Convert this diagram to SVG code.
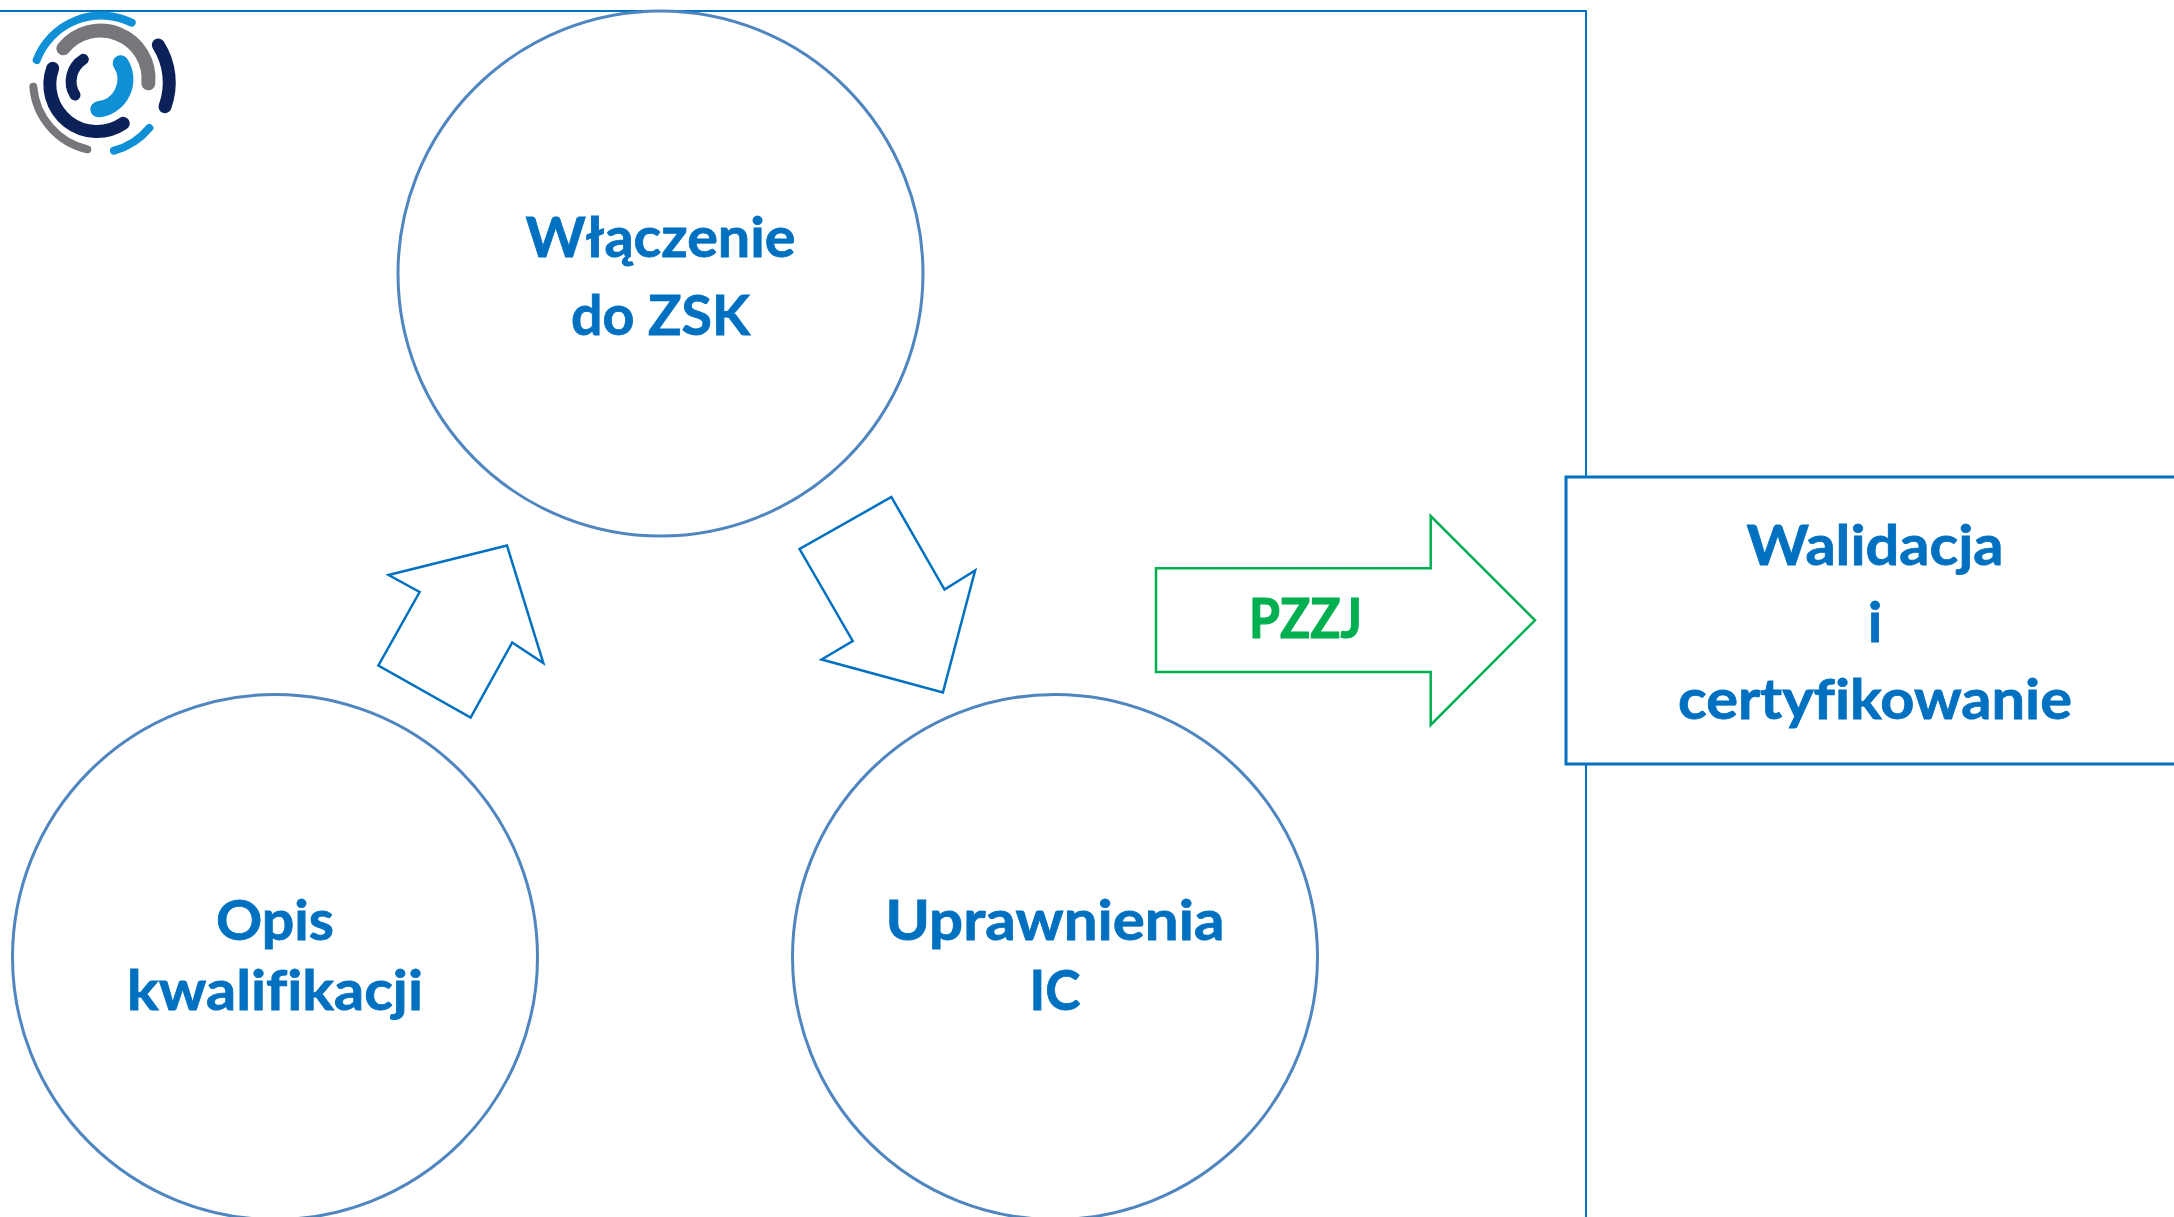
<svg xmlns="http://www.w3.org/2000/svg" width="2174" height="1217" viewBox="0 0 2174 1217">
<style>
.c{fill:#fff;stroke:#4f86c0;stroke-width:3}
.a{fill:#fff;stroke:#0070c0;stroke-width:2.500}
.t{font-family:Lato,"Liberation Sans",sans-serif;font-weight:700;font-size:56px;fill:#0070c0;stroke:#0070c0;stroke-width:.8px;text-anchor:middle;font-variant-ligatures:none}
.l{fill:none;stroke-linecap:round}
</style>
<rect width="2174" height="1217" fill="#fff"/>
<path id="frame" d="M0 11H1586V1217" fill="none" stroke="#0070c0" stroke-width="2"/>
<g id="logo" class="l">
<path d="M36.700 60A69 69 0 0 1 131.700 22.700" stroke="#0f8fd6" stroke-width="8"/>
<path d="M63.300 48.300A48 48 0 0 1 148.300 83.300" stroke="#77777b" stroke-width="14"/>
<path d="M158.300 45A70 70 0 0 1 165 106.700" stroke="#0b2158" stroke-width="13"/>
<path d="M83.300 59.300A26 26 0 0 0 75 95" stroke="#0b2158" stroke-width="11"/>
<path d="M52.700 68.300A47 47 0 0 0 123.300 123.300" stroke="#0b2158" stroke-width="13"/>
<path d="M120.700 63.300A30 30 0 0 1 98.300 109.300" stroke="#0f8fd6" stroke-width="16"/>
<path d="M33.300 86.700A70 70 0 0 0 87.300 149.300" stroke="#77777b" stroke-width="8"/>
<path d="M114 150.700A70 70 0 0 0 149.300 128" stroke="#0f8fd6" stroke-width="8"/>
</g>
<g id="node-wlaczenie"><circle class="c" cx="660.500" cy="273.500" r="262.500"/><text class="t" x="660.500" y="256.500" textLength="270" lengthAdjust="spacingAndGlyphs">Włączenie</text><text class="t" x="660.500" y="334.500" textLength="179" lengthAdjust="spacingAndGlyphs">do ZSK</text></g>
<g id="node-opis"><circle class="c" cx="275" cy="957" r="262.500"/><text class="t" x="275" y="939.500" textLength="118" lengthAdjust="spacingAndGlyphs">Opis</text><text class="t" x="275" y="1009.500" textLength="296" lengthAdjust="spacingAndGlyphs">kwalifikacji</text></g>
<g id="node-uprawnienia"><circle class="c" cx="1055" cy="957" r="262.500"/><text class="t" x="1055" y="939.500" textLength="339" lengthAdjust="spacingAndGlyphs">Uprawnienia</text><text class="t" x="1055" y="1009.500" textLength="51" lengthAdjust="spacingAndGlyphs">IC</text></g>
<g id="node-walidacja"><rect x="1566" y="477" width="620" height="287" fill="#fff" stroke="#0070c0" stroke-width="3"/><text class="t" x="1875" y="564.500" textLength="257" lengthAdjust="spacingAndGlyphs">Walidacja</text><text class="t" x="1875" y="642">i</text><text class="t" x="1875" y="718.500" textLength="394" lengthAdjust="spacingAndGlyphs">certyfikowanie</text></g>
<g id="connectors">
<polygon class="a" points="507,545.500 543.300,663 512.200,642.500 470.600,717.500 378.400,665.500 419.600,592 388.600,575"/>
<polygon class="a" points="891.400,497 944.500,589.500 975.100,570.500 942.900,692.500 821.600,659.500 852.700,641 799.600,549"/>
<polygon points="1156,568.300 1430.700,568.300 1430.700,516 1535,620.300 1430.700,725 1430.700,672 1156,672" fill="#fff" stroke="#00b050" stroke-width="2.500"/>
<text class="t" x="1305.500" y="638" textLength="113" lengthAdjust="spacingAndGlyphs" style="fill:#00b050;stroke:#00b050;stroke-width:1.200px">PZZJ</text>
</g>
</svg>
